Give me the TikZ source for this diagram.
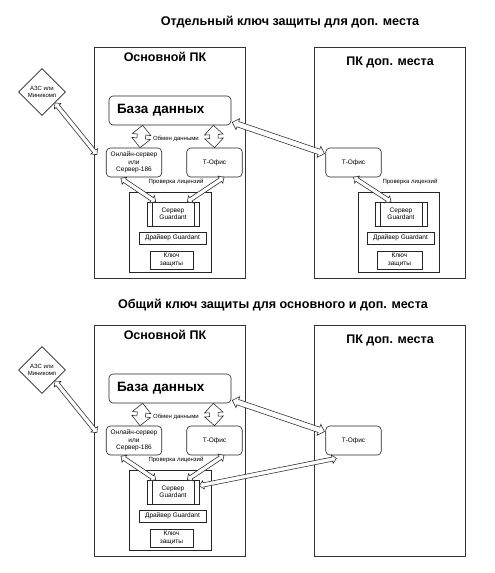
\documentclass[tikz,border=0pt]{standalone}
\usepackage{fontspec}
\setmainfont{Liberation Sans}
\usetikzlibrary{calc}
\usetikzlibrary{shapes.geometric}
\usetikzlibrary{shapes.arrows}

% hollow two-headed arrow between two points
\newcommand{\hollowarrow}[3][]{%
  \path let \p1=(#2), \p2=(#3), \n1={veclen(\x2-\x1,\y2-\y1)} in
    (#2) -- (#3) node[midway, sloped, hollow, minimum height=\n1, #1] {};}

\begin{document}
\begin{tikzpicture}[x=1pt, y=-1pt,
    every node/.style={font=\fontsize{6.5}{7.5}\selectfont, align=center, inner sep=1pt},
    title/.style={font=\bfseries\fontsize{12.6}{15}\selectfont},
    pctitle/.style={font=\bfseries\fontsize{12.5}{15}\selectfont},
    pcbox/.style={draw=black!80, line width=0.7pt, minimum width=151pt, minimum height=231pt},
    azs/.style={draw=black!85, line width=0.6pt, diamond, aspect=1, minimum width=47pt, minimum height=47pt,
      inner sep=0pt, font=\fontsize{6}{7}\selectfont},
    dbbox/.style={draw=black!85, line width=0.6pt, rounded corners=4pt, minimum width=122pt, minimum height=29pt,
      text width=106pt, inner xsep=8pt, inner ysep=2pt, align=left,
      font=\bfseries\fontsize{13.5}{16}\selectfont},
    prog/.style={draw=black!85, line width=0.6pt, rounded corners=4pt, minimum width=55.5pt, minimum height=29pt},
    keybox/.style={draw=black!85, line width=0.6pt},
    srvbox/.style={keybox, minimum width=52pt, minimum height=24pt,
      path picture={\draw[black!85, line width=0.6pt]
        ([xshift=5pt]path picture bounding box.north west) -- ([xshift=5pt]path picture bounding box.south west)
        ([xshift=-5pt]path picture bounding box.north east) -- ([xshift=-5pt]path picture bounding box.south east);}},
    small/.style={font=\fontsize{6}{7}\selectfont},
    hollow/.style={double arrow, draw=black!85, fill=white, line width=0.55pt, inner xsep=0pt,
      double arrow tip angle=90},
    fat/.style={inner ysep=4pt, double arrow head extend=5pt},
    mid/.style={inner ysep=2.5pt, double arrow head extend=3pt},
    thinarr/.style={inner ysep=1.8pt, double arrow head extend=2.2pt}]

  \useasboundingbox[fill=white] (0,0) rectangle (495,573);

  \node[title] (title-a) at (290,22) {Отдельный ключ защиты для доп. места};
  \node[title] (title-b) at (273,305) {Общий ключ защиты для основного и доп. места};

  \foreach \s/\dy in {a/0, b/278} {
    \node[pcbox] (main-\s) at (169.5,162.5+\dy) {};
    \node[pcbox] (extra-\s) at (389.5,162.5+\dy) {};
    \node[pctitle] (mainlbl-\s) at (165,57+\dy) {Основной ПК};
    \node[pctitle] (extralbl-\s) at (390,62+\dy) {ПК доп. места};
    \node[azs] (azs-\s) at (42,92+\dy) {АЗС или\\Миникомп};
    \node[dbbox] (db-\s) at (170,110.5+\dy) {База данных};
    \node[prog] (online-\s) at (134,162.5+\dy) {Онлайн-сервер\\или\\Сервер-186};
    \node[prog] (tofc-\s) at (214.5,162.5+\dy) {Т-Офис};
    \node[prog] (rtofc-\s) at (353.5,162.5+\dy) {Т-Офис};
    \node[small] (xchg-\s) at (176,139+\dy) {Обмен данными};
    \node[small] (check-\s) at (176,182+\dy) {Проверка лицензий};
    \node[keybox, minimum width=82pt, minimum height=80pt] (kit-\s) at (170,232+\dy) {};
    \node[srvbox] (srv-\s) at (173,214+\dy) {Сервер\\Guardant};
    \node[keybox, minimum width=67pt, minimum height=12pt] (drv-\s) at (172.5,238+\dy) {Драйвер Guardant};
    \node[keybox, minimum width=43pt, minimum height=18pt] (key-\s) at (171.5,260+\dy) {Ключ\\защиты};
    % arrows
    \hollowarrow[thinarr]{azs-\s.-40}{$(online-\s.north west)+(-9,7)$}
    \hollowarrow[fat]{$(db-\s.south west)+(34,0)$}{$(online-\s.north)+(6,0)$}
    \hollowarrow[fat]{$(db-\s.south east)+(-18,0)$}{tofc-\s.north}
    \hollowarrow[mid]{$(db-\s.south east)+(1,-3)$}{$(rtofc-\s.north west)+(-1,6)$}
    \hollowarrow[thinarr]{$(online-\s.south west)+(15,1)$}{$(srv-\s.north west)+(9,0)$}
    \hollowarrow[thinarr]{$(tofc-\s.south)+(9.5,0)$}{$(srv-\s.north east)+(-12,0)$}
  }

  % separate key on the extra PC
  \node[small] (rcheck-a) at (410,182) {Проверка лицензий};
  \node[keybox, minimum width=81pt, minimum height=80pt] (rkit-a) at (398.5,232) {};
  \node[srvbox] (rsrv-a) at (401,214) {Сервер\\Guardant};
  \node[keybox, minimum width=67pt, minimum height=12pt] (rdrv-a) at (400.5,238) {Драйвер Guardant};
  \node[keybox, minimum width=45pt, minimum height=18pt] (rkey-a) at (399.5,260) {Ключ\\защиты};
  \hollowarrow[thinarr]{rtofc-a.south}{$(rsrv-a.north)+(-10,0)$}

  % shared key
  \hollowarrow[thinarr]{$(rtofc-b.south west)+(11,3)$}{$(srv-b.north east)+(0,6)$}
\end{tikzpicture}
\end{document}
